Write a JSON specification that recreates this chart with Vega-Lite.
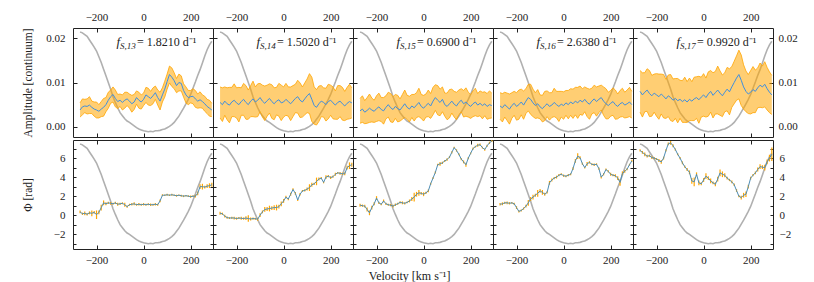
{
"$schema": "https://vega.github.io/schema/vega-lite/v6.json",
"padding": {"left": 21, "top": 10, "right": 10, "bottom": 0},
"config": {
  "font": "Liberation Serif",
  "view": {"stroke": "#222", "strokeWidth": 1},
  "axis": {"labelFont": "Liberation Serif", "labelFontSize": 11, "labelColor": "#222", "tickColor": "#222", "tickWidth": 1, "domain": false, "grid": false, "titleFont": "Liberation Serif", "titleFontSize": 11.5, "titleFontWeight": "normal", "titleColor": "#222", "labelFlush": false}
},
"title": {"text": "Velocity [km s⁻¹]", "orient": "bottom", "anchor": "middle", "frame": "bounds", "fontSize": 12, "fontWeight": "normal", "font": "Liberation Serif", "color": "#222", "offset": 5},
"datasets": {
"one": [{}],
"prof": [
{"v":-270,"f":0.0214},{"v":-260,"f":0.0212},{"v":-250,"f":0.0208},{"v":-240,"f":0.0204},{"v":-230,"f":0.0196},{"v":-220,"f":0.0188},{"v":-210,"f":0.0180},{"v":-200,"f":0.0171},{"v":-190,"f":0.0158},{"v":-180,"f":0.0145},{"v":-170,"f":0.0130},{"v":-160,"f":0.0115},{"v":-150,"f":0.0100},{"v":-140,"f":0.0085},{"v":-130,"f":0.0068},{"v":-120,"f":0.0055},{"v":-110,"f":0.0043},{"v":-100,"f":0.0032},{"v":-90,"f":0.0025},{"v":-80,"f":0.0018},{"v":-70,"f":0.0013},{"v":-60,"f":0.0010},{"v":-50,"f":0.0006},{"v":-40,"f":0.0002},{"v":-30,"f":-0.0002},{"v":-20,"f":-0.0005},{"v":-10,"f":-0.0007},{"v":0,"f":-0.0009},{"v":10,"f":-0.0010},{"v":20,"f":-0.0011},{"v":30,"f":-0.0010},{"v":40,"f":-0.0011},{"v":50,"f":-0.0009},{"v":60,"f":-0.0009},{"v":70,"f":-0.0008},{"v":80,"f":-0.0006},{"v":90,"f":-0.0005},{"v":100,"f":-0.0002},{"v":110,"f":0.0001},{"v":120,"f":0.0005},{"v":130,"f":0.0010},{"v":140,"f":0.0017},{"v":150,"f":0.0024},{"v":160,"f":0.0033},{"v":170,"f":0.0042},{"v":180,"f":0.0052},{"v":190,"f":0.0062},{"v":200,"f":0.0073},{"v":210,"f":0.0087},{"v":220,"f":0.0101},{"v":230,"f":0.0116},{"v":240,"f":0.0129},{"v":250,"f":0.0144},{"v":260,"f":0.0160},{"v":270,"f":0.0174},{"v":280,"f":0.0185},{"v":290,"f":0.0193}
],
"d": [
{"p":1,"v":-270,"a":0.0038,"e":0.0016,"ph":0.35,"pe":0.15},
{"p":1,"v":-260,"a":0.0045,"e":0.0018,"ph":0.15,"pe":0.12},
{"p":1,"v":-250,"a":0.0047,"e":0.0015,"ph":0.2,"pe":0.2},
{"p":1,"v":-240,"a":0.0046,"e":0.0017,"ph":0.1,"pe":0.12},
{"p":1,"v":-230,"a":0.0049,"e":0.0019,"ph":0.25,"pe":0.15},
{"p":1,"v":-220,"a":0.0044,"e":0.0014,"ph":0.2,"pe":0.3},
{"p":1,"v":-210,"a":0.0040,"e":0.0016,"ph":0.3,"pe":0.15},
{"p":1,"v":-200,"a":0.0038,"e":0.0018,"ph":0.05,"pe":0.45},
{"p":1,"v":-190,"a":0.0035,"e":0.0015,"ph":0.3,"pe":0.2},
{"p":1,"v":-180,"a":0.0040,"e":0.0017,"ph":0.8,"pe":0.3},
{"p":1,"v":-170,"a":0.0044,"e":0.0020,"ph":1.3,"pe":0.25},
{"p":1,"v":-160,"a":0.0050,"e":0.0016,"ph":1.2,"pe":0.15},
{"p":1,"v":-150,"a":0.0060,"e":0.0018,"ph":1.3,"pe":0.12},
{"p":1,"v":-140,"a":0.0068,"e":0.0015,"ph":1.25,"pe":0.15},
{"p":1,"v":-130,"a":0.0073,"e":0.0017,"ph":1.2,"pe":0.1},
{"p":1,"v":-120,"a":0.0064,"e":0.0019,"ph":1.3,"pe":0.12},
{"p":1,"v":-110,"a":0.0057,"e":0.0016,"ph":1.15,"pe":0.15},
{"p":1,"v":-100,"a":0.0060,"e":0.0014,"ph":1.2,"pe":0.12},
{"p":1,"v":-90,"a":0.0055,"e":0.0017,"ph":1.25,"pe":0.1},
{"p":1,"v":-80,"a":0.0060,"e":0.0018,"ph":1.1,"pe":0.2},
{"p":1,"v":-70,"a":0.0063,"e":0.0015,"ph":0.9,"pe":0.12},
{"p":1,"v":-60,"a":0.0058,"e":0.0016,"ph":1.1,"pe":0.1},
{"p":1,"v":-50,"a":0.0052,"e":0.0019,"ph":1.15,"pe":0.12},
{"p":1,"v":-40,"a":0.0056,"e":0.0017,"ph":1.2,"pe":0.15},
{"p":1,"v":-30,"a":0.0066,"e":0.0015,"ph":1.1,"pe":0.1},
{"p":1,"v":-20,"a":0.0060,"e":0.0018,"ph":1.15,"pe":0.12},
{"p":1,"v":-10,"a":0.0056,"e":0.0016,"ph":1.1,"pe":0.1},
{"p":1,"v":0,"a":0.0062,"e":0.0014,"ph":1.15,"pe":0.12},
{"p":1,"v":10,"a":0.0072,"e":0.0017,"ph":1.1,"pe":0.1},
{"p":1,"v":20,"a":0.0068,"e":0.0019,"ph":1.15,"pe":0.1},
{"p":1,"v":30,"a":0.0064,"e":0.0016,"ph":1.1,"pe":0.12},
{"p":1,"v":40,"a":0.0070,"e":0.0018,"ph":1.1,"pe":0.1},
{"p":1,"v":50,"a":0.0077,"e":0.0015,"ph":1.15,"pe":0.12},
{"p":1,"v":60,"a":0.0066,"e":0.0017,"ph":1.1,"pe":0.1},
{"p":1,"v":70,"a":0.0058,"e":0.0020,"ph":1.5,"pe":0.15},
{"p":1,"v":80,"a":0.0072,"e":0.0016,"ph":2.1,"pe":0.1},
{"p":1,"v":90,"a":0.0085,"e":0.0018,"ph":2.1,"pe":0.08},
{"p":1,"v":100,"a":0.0102,"e":0.0017,"ph":2.15,"pe":0.1},
{"p":1,"v":110,"a":0.0118,"e":0.0019,"ph":2.1,"pe":0.08},
{"p":1,"v":120,"a":0.0112,"e":0.0021,"ph":2.15,"pe":0.1},
{"p":1,"v":130,"a":0.0104,"e":0.0018,"ph":2.1,"pe":0.08},
{"p":1,"v":140,"a":0.0093,"e":0.0016,"ph":2.05,"pe":0.1},
{"p":1,"v":150,"a":0.0100,"e":0.0019,"ph":2.1,"pe":0.08},
{"p":1,"v":160,"a":0.0098,"e":0.0017,"ph":2.05,"pe":0.1},
{"p":1,"v":170,"a":0.0082,"e":0.0015,"ph":2.0,"pe":0.1},
{"p":1,"v":180,"a":0.0072,"e":0.0018,"ph":2.05,"pe":0.08},
{"p":1,"v":190,"a":0.0066,"e":0.0016,"ph":2.0,"pe":0.1},
{"p":1,"v":200,"a":0.0068,"e":0.0014,"ph":1.95,"pe":0.12},
{"p":1,"v":210,"a":0.0069,"e":0.0017,"ph":2.0,"pe":0.1},
{"p":1,"v":220,"a":0.0063,"e":0.0019,"ph":2.0,"pe":0.15},
{"p":1,"v":230,"a":0.0058,"e":0.0016,"ph":2.3,"pe":0.2},
{"p":1,"v":240,"a":0.0061,"e":0.0018,"ph":3.0,"pe":0.25},
{"p":1,"v":250,"a":0.0057,"e":0.0015,"ph":3.0,"pe":0.3},
{"p":1,"v":260,"a":0.0052,"e":0.0017,"ph":2.95,"pe":0.15},
{"p":1,"v":270,"a":0.0046,"e":0.0016,"ph":3.05,"pe":0.2},
{"p":1,"v":280,"a":0.0042,"e":0.0018,"ph":3.1,"pe":0.25},
{"p":1,"v":290,"a":0.0038,"e":0.0015,"ph":3.2,"pe":0.2},
{"p":2,"v":-270,"a":0.0055,"e":0.0035,"ph":0.2,"pe":0.15},
{"p":2,"v":-260,"a":0.0050,"e":0.0038,"ph":0.15,"pe":0.12},
{"p":2,"v":-250,"a":0.0058,"e":0.0032,"ph":-0.1,"pe":0.15},
{"p":2,"v":-240,"a":0.0052,"e":0.0036,"ph":-0.25,"pe":0.12},
{"p":2,"v":-230,"a":0.0049,"e":0.0040,"ph":-0.3,"pe":0.1},
{"p":2,"v":-220,"a":0.0056,"e":0.0033,"ph":-0.28,"pe":0.12},
{"p":2,"v":-210,"a":0.0060,"e":0.0037,"ph":-0.3,"pe":0.15},
{"p":2,"v":-200,"a":0.0054,"e":0.0034,"ph":-0.35,"pe":0.12},
{"p":2,"v":-190,"a":0.0050,"e":0.0039,"ph":-0.3,"pe":0.1},
{"p":2,"v":-180,"a":0.0057,"e":0.0031,"ph":-0.32,"pe":0.15},
{"p":2,"v":-170,"a":0.0062,"e":0.0036,"ph":-0.35,"pe":0.12},
{"p":2,"v":-160,"a":0.0055,"e":0.0038,"ph":-0.3,"pe":0.2},
{"p":2,"v":-150,"a":0.0050,"e":0.0033,"ph":-0.35,"pe":0.35},
{"p":2,"v":-140,"a":0.0058,"e":0.0035,"ph":-0.4,"pe":0.15},
{"p":2,"v":-130,"a":0.0063,"e":0.0040,"ph":-0.35,"pe":0.12},
{"p":2,"v":-120,"a":0.0056,"e":0.0034,"ph":-0.38,"pe":0.1},
{"p":2,"v":-110,"a":0.0060,"e":0.0037,"ph":-0.42,"pe":0.15},
{"p":2,"v":-100,"a":0.0066,"e":0.0032,"ph":0.0,"pe":0.2},
{"p":2,"v":-90,"a":0.0058,"e":0.0036,"ph":0.35,"pe":0.15},
{"p":2,"v":-80,"a":0.0053,"e":0.0039,"ph":0.6,"pe":0.25},
{"p":2,"v":-70,"a":0.0059,"e":0.0035,"ph":0.65,"pe":0.2},
{"p":2,"v":-60,"a":0.0064,"e":0.0033,"ph":0.7,"pe":0.3},
{"p":2,"v":-50,"a":0.0057,"e":0.0038,"ph":0.75,"pe":0.2},
{"p":2,"v":-40,"a":0.0052,"e":0.0036,"ph":0.8,"pe":0.25},
{"p":2,"v":-30,"a":0.0058,"e":0.0031,"ph":0.8,"pe":0.3},
{"p":2,"v":-20,"a":0.0061,"e":0.0037,"ph":0.9,"pe":0.2},
{"p":2,"v":-10,"a":0.0054,"e":0.0040,"ph":1.2,"pe":0.25},
{"p":2,"v":0,"a":0.0056,"e":0.0034,"ph":1.5,"pe":0.2},
{"p":2,"v":10,"a":0.0062,"e":0.0036,"ph":1.9,"pe":0.15},
{"p":2,"v":20,"a":0.0057,"e":0.0033,"ph":1.7,"pe":0.12},
{"p":2,"v":30,"a":0.0052,"e":0.0038,"ph":2.2,"pe":0.15},
{"p":2,"v":40,"a":0.0058,"e":0.0035,"ph":2.7,"pe":0.12},
{"p":2,"v":50,"a":0.0064,"e":0.0032,"ph":2.3,"pe":0.15},
{"p":2,"v":60,"a":0.0068,"e":0.0037,"ph":1.6,"pe":0.1},
{"p":2,"v":70,"a":0.0060,"e":0.0039,"ph":2.2,"pe":0.12},
{"p":2,"v":80,"a":0.0056,"e":0.0034,"ph":2.55,"pe":0.1},
{"p":2,"v":90,"a":0.0063,"e":0.0036,"ph":2.6,"pe":0.12},
{"p":2,"v":100,"a":0.0070,"e":0.0038,"ph":2.75,"pe":0.15},
{"p":2,"v":110,"a":0.0075,"e":0.0045,"ph":2.9,"pe":0.35},
{"p":2,"v":120,"a":0.0062,"e":0.0050,"ph":3.2,"pe":0.2},
{"p":2,"v":130,"a":0.0048,"e":0.0042,"ph":3.3,"pe":0.12},
{"p":2,"v":140,"a":0.0044,"e":0.0040,"ph":3.55,"pe":0.4},
{"p":2,"v":150,"a":0.0052,"e":0.0040,"ph":3.8,"pe":0.15},
{"p":2,"v":160,"a":0.0058,"e":0.0035,"ph":3.9,"pe":0.12},
{"p":2,"v":170,"a":0.0055,"e":0.0033,"ph":3.45,"pe":0.1},
{"p":2,"v":180,"a":0.0050,"e":0.0037,"ph":4.0,"pe":0.2},
{"p":2,"v":190,"a":0.0057,"e":0.0039,"ph":4.1,"pe":0.12},
{"p":2,"v":200,"a":0.0060,"e":0.0034,"ph":3.95,"pe":0.15},
{"p":2,"v":210,"a":0.0054,"e":0.0036,"ph":4.05,"pe":0.12},
{"p":2,"v":220,"a":0.0049,"e":0.0032,"ph":4.3,"pe":0.15},
{"p":2,"v":230,"a":0.0055,"e":0.0038,"ph":4.45,"pe":0.1},
{"p":2,"v":240,"a":0.0058,"e":0.0035,"ph":4.4,"pe":0.15},
{"p":2,"v":250,"a":0.0052,"e":0.0037,"ph":4.35,"pe":0.12},
{"p":2,"v":260,"a":0.0047,"e":0.0033,"ph":4.35,"pe":0.15},
{"p":2,"v":270,"a":0.0053,"e":0.0036,"ph":5.0,"pe":0.2},
{"p":2,"v":280,"a":0.0057,"e":0.0039,"ph":5.2,"pe":0.35},
{"p":2,"v":290,"a":0.0054,"e":0.0034,"ph":5.3,"pe":0.2},
{"p":3,"v":-270,"a":0.0036,"e":0.0028,"ph":1.05,"pe":0.15},
{"p":3,"v":-260,"a":0.0040,"e":0.0030,"ph":1.0,"pe":0.12},
{"p":3,"v":-250,"a":0.0033,"e":0.0026,"ph":0.95,"pe":0.15},
{"p":3,"v":-240,"a":0.0037,"e":0.0029,"ph":0.6,"pe":0.2},
{"p":3,"v":-230,"a":0.0042,"e":0.0032,"ph":0.25,"pe":0.25},
{"p":3,"v":-220,"a":0.0038,"e":0.0027,"ph":0.8,"pe":0.2},
{"p":3,"v":-210,"a":0.0035,"e":0.0025,"ph":1.2,"pe":0.15},
{"p":3,"v":-200,"a":0.0041,"e":0.0029,"ph":1.8,"pe":0.2},
{"p":3,"v":-190,"a":0.0045,"e":0.0031,"ph":1.3,"pe":0.12},
{"p":3,"v":-180,"a":0.0039,"e":0.0027,"ph":1.15,"pe":0.1},
{"p":3,"v":-170,"a":0.0036,"e":0.0030,"ph":1.5,"pe":0.15},
{"p":3,"v":-160,"a":0.0044,"e":0.0026,"ph":1.2,"pe":0.12},
{"p":3,"v":-150,"a":0.0050,"e":0.0028,"ph":1.1,"pe":0.1},
{"p":3,"v":-140,"a":0.0043,"e":0.0032,"ph":1.05,"pe":0.12},
{"p":3,"v":-130,"a":0.0039,"e":0.0029,"ph":0.95,"pe":0.15},
{"p":3,"v":-120,"a":0.0046,"e":0.0027,"ph":1.1,"pe":0.12},
{"p":3,"v":-110,"a":0.0041,"e":0.0030,"ph":1.2,"pe":0.1},
{"p":3,"v":-100,"a":0.0038,"e":0.0025,"ph":1.35,"pe":0.12},
{"p":3,"v":-90,"a":0.0045,"e":0.0028,"ph":1.3,"pe":0.15},
{"p":3,"v":-80,"a":0.0052,"e":0.0031,"ph":1.25,"pe":0.12},
{"p":3,"v":-70,"a":0.0044,"e":0.0027,"ph":1.35,"pe":0.1},
{"p":3,"v":-60,"a":0.0040,"e":0.0029,"ph":1.5,"pe":0.15},
{"p":3,"v":-50,"a":0.0047,"e":0.0026,"ph":1.7,"pe":0.2},
{"p":3,"v":-40,"a":0.0043,"e":0.0030,"ph":1.9,"pe":0.45},
{"p":3,"v":-30,"a":0.0049,"e":0.0028,"ph":2.2,"pe":0.25},
{"p":3,"v":-20,"a":0.0055,"e":0.0032,"ph":2.35,"pe":0.3},
{"p":3,"v":-10,"a":0.0046,"e":0.0027,"ph":2.3,"pe":0.15},
{"p":3,"v":0,"a":0.0042,"e":0.0029,"ph":2.2,"pe":0.2},
{"p":3,"v":10,"a":0.0048,"e":0.0026,"ph":2.35,"pe":0.12},
{"p":3,"v":20,"a":0.0053,"e":0.0030,"ph":2.55,"pe":0.15},
{"p":3,"v":30,"a":0.0047,"e":0.0028,"ph":3.3,"pe":0.12},
{"p":3,"v":40,"a":0.0058,"e":0.0031,"ph":3.9,"pe":0.1},
{"p":3,"v":50,"a":0.0066,"e":0.0029,"ph":4.5,"pe":0.12},
{"p":3,"v":60,"a":0.0060,"e":0.0033,"ph":5.3,"pe":0.1},
{"p":3,"v":70,"a":0.0055,"e":0.0030,"ph":5.4,"pe":0.2},
{"p":3,"v":80,"a":0.0062,"e":0.0028,"ph":5.5,"pe":0.12},
{"p":3,"v":90,"a":0.0050,"e":0.0026,"ph":5.7,"pe":0.1},
{"p":3,"v":100,"a":0.0046,"e":0.0030,"ph":5.85,"pe":0.12},
{"p":3,"v":110,"a":0.0052,"e":0.0032,"ph":6.1,"pe":0.1},
{"p":3,"v":120,"a":0.0058,"e":0.0027,"ph":6.6,"pe":0.12},
{"p":3,"v":130,"a":0.0051,"e":0.0029,"ph":7.1,"pe":0.1},
{"p":3,"v":140,"a":0.0047,"e":0.0031,"ph":6.8,"pe":0.12},
{"p":3,"v":150,"a":0.0055,"e":0.0028,"ph":6.4,"pe":0.1},
{"p":3,"v":160,"a":0.0060,"e":0.0026,"ph":5.9,"pe":0.12},
{"p":3,"v":170,"a":0.0052,"e":0.0030,"ph":5.6,"pe":0.15},
{"p":3,"v":180,"a":0.0056,"e":0.0032,"ph":5.3,"pe":0.2},
{"p":3,"v":190,"a":0.0050,"e":0.0028,"ph":6.0,"pe":0.12},
{"p":3,"v":200,"a":0.0046,"e":0.0027,"ph":6.5,"pe":0.1},
{"p":3,"v":210,"a":0.0052,"e":0.0029,"ph":7.0,"pe":0.12},
{"p":3,"v":220,"a":0.0056,"e":0.0031,"ph":7.2,"pe":0.1},
{"p":3,"v":230,"a":0.0049,"e":0.0026,"ph":7.35,"pe":0.15},
{"p":3,"v":240,"a":0.0053,"e":0.0028,"ph":7.4,"pe":0.12},
{"p":3,"v":250,"a":0.0048,"e":0.0030,"ph":7.1,"pe":0.1},
{"p":3,"v":260,"a":0.0052,"e":0.0027,"ph":6.9,"pe":0.12},
{"p":3,"v":270,"a":0.0046,"e":0.0029,"ph":7.3,"pe":0.1},
{"p":3,"v":280,"a":0.0050,"e":0.0031,"ph":7.6,"pe":0.12},
{"p":3,"v":290,"a":0.0048,"e":0.0028,"ph":7.8,"pe":0.1},
{"p":4,"v":-270,"a":0.0047,"e":0.0030,"ph":1.15,"pe":0.12},
{"p":4,"v":-260,"a":0.0043,"e":0.0032,"ph":1.2,"pe":0.15},
{"p":4,"v":-250,"a":0.0050,"e":0.0028,"ph":1.3,"pe":0.12},
{"p":4,"v":-240,"a":0.0045,"e":0.0031,"ph":1.3,"pe":0.15},
{"p":4,"v":-230,"a":0.0040,"e":0.0034,"ph":1.25,"pe":0.12},
{"p":4,"v":-220,"a":0.0048,"e":0.0029,"ph":1.3,"pe":0.1},
{"p":4,"v":-210,"a":0.0053,"e":0.0027,"ph":1.2,"pe":0.12},
{"p":4,"v":-200,"a":0.0046,"e":0.0031,"ph":0.8,"pe":0.15},
{"p":4,"v":-190,"a":0.0050,"e":0.0033,"ph":0.4,"pe":0.12},
{"p":4,"v":-180,"a":0.0056,"e":0.0029,"ph":0.5,"pe":0.1},
{"p":4,"v":-170,"a":0.0049,"e":0.0032,"ph":0.7,"pe":0.12},
{"p":4,"v":-160,"a":0.0058,"e":0.0028,"ph":0.95,"pe":0.15},
{"p":4,"v":-150,"a":0.0066,"e":0.0030,"ph":1.3,"pe":0.3},
{"p":4,"v":-140,"a":0.0062,"e":0.0034,"ph":1.7,"pe":0.2},
{"p":4,"v":-130,"a":0.0054,"e":0.0031,"ph":1.9,"pe":0.25},
{"p":4,"v":-120,"a":0.0048,"e":0.0029,"ph":2.1,"pe":0.15},
{"p":4,"v":-110,"a":0.0052,"e":0.0032,"ph":2.3,"pe":0.35},
{"p":4,"v":-100,"a":0.0045,"e":0.0027,"ph":2.55,"pe":0.2},
{"p":4,"v":-90,"a":0.0041,"e":0.0030,"ph":2.4,"pe":0.25},
{"p":4,"v":-80,"a":0.0047,"e":0.0033,"ph":2.2,"pe":0.15},
{"p":4,"v":-70,"a":0.0052,"e":0.0029,"ph":2.4,"pe":0.12},
{"p":4,"v":-60,"a":0.0046,"e":0.0031,"ph":3.4,"pe":0.2},
{"p":4,"v":-50,"a":0.0049,"e":0.0028,"ph":3.7,"pe":0.15},
{"p":4,"v":-40,"a":0.0055,"e":0.0032,"ph":3.9,"pe":0.12},
{"p":4,"v":-30,"a":0.0050,"e":0.0030,"ph":4.0,"pe":0.15},
{"p":4,"v":-20,"a":0.0046,"e":0.0034,"ph":4.2,"pe":0.12},
{"p":4,"v":-10,"a":0.0051,"e":0.0029,"ph":4.3,"pe":0.1},
{"p":4,"v":0,"a":0.0048,"e":0.0031,"ph":4.15,"pe":0.12},
{"p":4,"v":10,"a":0.0054,"e":0.0028,"ph":4.1,"pe":0.1},
{"p":4,"v":20,"a":0.0050,"e":0.0032,"ph":4.2,"pe":0.12},
{"p":4,"v":30,"a":0.0056,"e":0.0030,"ph":4.3,"pe":0.1},
{"p":4,"v":40,"a":0.0052,"e":0.0033,"ph":4.9,"pe":0.15},
{"p":4,"v":50,"a":0.0058,"e":0.0031,"ph":5.7,"pe":0.2},
{"p":4,"v":60,"a":0.0054,"e":0.0035,"ph":6.2,"pe":0.3},
{"p":4,"v":70,"a":0.0060,"e":0.0032,"ph":6.05,"pe":0.15},
{"p":4,"v":80,"a":0.0056,"e":0.0030,"ph":5.4,"pe":0.12},
{"p":4,"v":90,"a":0.0062,"e":0.0028,"ph":5.0,"pe":0.1},
{"p":4,"v":100,"a":0.0055,"e":0.0032,"ph":5.4,"pe":0.2},
{"p":4,"v":110,"a":0.0051,"e":0.0034,"ph":5.55,"pe":0.12},
{"p":4,"v":120,"a":0.0058,"e":0.0029,"ph":5.35,"pe":0.1},
{"p":4,"v":130,"a":0.0063,"e":0.0031,"ph":5.3,"pe":0.12},
{"p":4,"v":140,"a":0.0057,"e":0.0033,"ph":5.35,"pe":0.1},
{"p":4,"v":150,"a":0.0062,"e":0.0030,"ph":4.9,"pe":0.12},
{"p":4,"v":160,"a":0.0066,"e":0.0028,"ph":4.0,"pe":0.15},
{"p":4,"v":170,"a":0.0058,"e":0.0032,"ph":4.3,"pe":0.12},
{"p":4,"v":180,"a":0.0052,"e":0.0034,"ph":4.8,"pe":0.1},
{"p":4,"v":190,"a":0.0048,"e":0.0030,"ph":4.6,"pe":0.12},
{"p":4,"v":200,"a":0.0053,"e":0.0029,"ph":4.3,"pe":0.15},
{"p":4,"v":210,"a":0.0057,"e":0.0031,"ph":4.2,"pe":0.12},
{"p":4,"v":220,"a":0.0050,"e":0.0033,"ph":4.15,"pe":0.15},
{"p":4,"v":230,"a":0.0046,"e":0.0028,"ph":3.9,"pe":0.2},
{"p":4,"v":240,"a":0.0052,"e":0.0030,"ph":3.45,"pe":0.35},
{"p":4,"v":250,"a":0.0055,"e":0.0032,"ph":4.4,"pe":0.2},
{"p":4,"v":260,"a":0.0049,"e":0.0029,"ph":4.6,"pe":0.15},
{"p":4,"v":270,"a":0.0052,"e":0.0031,"ph":4.85,"pe":0.12},
{"p":4,"v":280,"a":0.0056,"e":0.0033,"ph":5.3,"pe":0.1},
{"p":4,"v":290,"a":0.0050,"e":0.0030,"ph":5.7,"pe":0.12},
{"p":5,"v":-270,"a":0.0080,"e":0.0047,"ph":6.8,"pe":0.12},
{"p":5,"v":-260,"a":0.0072,"e":0.0050,"ph":6.6,"pe":0.15},
{"p":5,"v":-250,"a":0.0078,"e":0.0044,"ph":6.4,"pe":0.2},
{"p":5,"v":-240,"a":0.0083,"e":0.0048,"ph":6.2,"pe":0.15},
{"p":5,"v":-230,"a":0.0075,"e":0.0052,"ph":6.25,"pe":0.12},
{"p":5,"v":-220,"a":0.0070,"e":0.0046,"ph":6.05,"pe":0.15},
{"p":5,"v":-210,"a":0.0076,"e":0.0043,"ph":6.0,"pe":0.12},
{"p":5,"v":-200,"a":0.0072,"e":0.0048,"ph":5.9,"pe":0.1},
{"p":5,"v":-190,"a":0.0068,"e":0.0051,"ph":5.75,"pe":0.15},
{"p":5,"v":-180,"a":0.0074,"e":0.0045,"ph":5.6,"pe":0.2},
{"p":5,"v":-170,"a":0.0069,"e":0.0049,"ph":6.0,"pe":0.15},
{"p":5,"v":-160,"a":0.0063,"e":0.0044,"ph":6.8,"pe":0.12},
{"p":5,"v":-150,"a":0.0070,"e":0.0047,"ph":7.5,"pe":0.15},
{"p":5,"v":-140,"a":0.0066,"e":0.0052,"ph":7.6,"pe":0.2},
{"p":5,"v":-130,"a":0.0060,"e":0.0048,"ph":7.3,"pe":0.15},
{"p":5,"v":-120,"a":0.0064,"e":0.0045,"ph":6.9,"pe":0.12},
{"p":5,"v":-110,"a":0.0059,"e":0.0050,"ph":6.4,"pe":0.1},
{"p":5,"v":-100,"a":0.0062,"e":0.0043,"ph":6.0,"pe":0.12},
{"p":5,"v":-90,"a":0.0057,"e":0.0047,"ph":5.5,"pe":0.15},
{"p":5,"v":-80,"a":0.0061,"e":0.0051,"ph":5.1,"pe":0.12},
{"p":5,"v":-70,"a":0.0056,"e":0.0046,"ph":4.8,"pe":0.15},
{"p":5,"v":-60,"a":0.0062,"e":0.0048,"ph":4.5,"pe":0.2},
{"p":5,"v":-50,"a":0.0058,"e":0.0044,"ph":3.6,"pe":0.3},
{"p":5,"v":-40,"a":0.0063,"e":0.0049,"ph":3.5,"pe":0.45},
{"p":5,"v":-30,"a":0.0066,"e":0.0047,"ph":4.3,"pe":0.2},
{"p":5,"v":-20,"a":0.0061,"e":0.0053,"ph":3.4,"pe":0.25},
{"p":5,"v":-10,"a":0.0067,"e":0.0045,"ph":3.3,"pe":0.15},
{"p":5,"v":0,"a":0.0072,"e":0.0048,"ph":3.7,"pe":0.2},
{"p":5,"v":10,"a":0.0066,"e":0.0044,"ph":4.1,"pe":0.3},
{"p":5,"v":20,"a":0.0074,"e":0.0050,"ph":3.9,"pe":0.2},
{"p":5,"v":30,"a":0.0080,"e":0.0047,"ph":3.6,"pe":0.25},
{"p":5,"v":40,"a":0.0071,"e":0.0051,"ph":3.4,"pe":0.15},
{"p":5,"v":50,"a":0.0077,"e":0.0048,"ph":3.25,"pe":0.2},
{"p":5,"v":60,"a":0.0083,"e":0.0054,"ph":3.8,"pe":0.25},
{"p":5,"v":70,"a":0.0076,"e":0.0050,"ph":4.45,"pe":0.35},
{"p":5,"v":80,"a":0.0070,"e":0.0047,"ph":4.3,"pe":0.3},
{"p":5,"v":90,"a":0.0078,"e":0.0044,"ph":4.2,"pe":0.2},
{"p":5,"v":100,"a":0.0085,"e":0.0049,"ph":3.9,"pe":0.15},
{"p":5,"v":110,"a":0.0079,"e":0.0052,"ph":3.7,"pe":0.12},
{"p":5,"v":120,"a":0.0090,"e":0.0046,"ph":3.5,"pe":0.15},
{"p":5,"v":130,"a":0.0100,"e":0.0048,"ph":3.2,"pe":0.12},
{"p":5,"v":140,"a":0.0110,"e":0.0050,"ph":2.6,"pe":0.15},
{"p":5,"v":150,"a":0.0118,"e":0.0055,"ph":2.0,"pe":0.12},
{"p":5,"v":160,"a":0.0105,"e":0.0057,"ph":1.85,"pe":0.2},
{"p":5,"v":170,"a":0.0090,"e":0.0050,"ph":2.1,"pe":0.25},
{"p":5,"v":180,"a":0.0080,"e":0.0046,"ph":2.2,"pe":0.3},
{"p":5,"v":190,"a":0.0074,"e":0.0044,"ph":3.0,"pe":0.2},
{"p":5,"v":200,"a":0.0078,"e":0.0049,"ph":3.9,"pe":0.15},
{"p":5,"v":210,"a":0.0084,"e":0.0052,"ph":4.2,"pe":0.12},
{"p":5,"v":220,"a":0.0080,"e":0.0048,"ph":4.45,"pe":0.15},
{"p":5,"v":230,"a":0.0088,"e":0.0045,"ph":4.8,"pe":0.2},
{"p":5,"v":240,"a":0.0094,"e":0.0050,"ph":5.1,"pe":0.25},
{"p":5,"v":250,"a":0.0090,"e":0.0047,"ph":5.05,"pe":0.2},
{"p":5,"v":260,"a":0.0096,"e":0.0051,"ph":5.0,"pe":0.3},
{"p":5,"v":270,"a":0.0086,"e":0.0048,"ph":5.6,"pe":0.25},
{"p":5,"v":280,"a":0.0078,"e":0.0046,"ph":6.0,"pe":0.35},
{"p":5,"v":290,"a":0.0072,"e":0.0044,"ph":6.4,"pe":0.7}
]
},
"spacing": 0,
"vconcat": [
{"spacing": 0, "bounds": "flush", "hconcat": [
{"width": 140, "height": 109, "resolve": {"axis": {"x": "independent", "y": "independent"}}, "layer": [
 {"data": {"name": "prof"}, "mark": {"type": "line", "color": "#b0b0b0", "strokeWidth": 1.6}, "encoding": {"x": {"field": "v", "type": "quantitative", "scale": {"domain": [-300, 295], "nice": false, "zero": false}, "axis": null}, "y": {"field": "f", "type": "quantitative", "scale": {"domain": [-0.0023, 0.0223], "nice": false, "zero": false}, "axis": null}}},
 {"data": {"name": "d"}, "transform": [{"filter": "datum.p == 1"}], "mark": {"type": "errorband", "color": "#ffa500", "band": {"opacity": 0.55}, "borders": {"opacity": 1, "strokeWidth": 0.8}}, "encoding": {"x": {"field": "v", "type": "quantitative", "scale": {"domain": [-300, 295], "nice": false, "zero": false}, "axis": {"orient": "bottom", "values": [-200, 0, 200], "tickSize": -4, "labels": false, "title": null}}, "y": {"field": "a", "type": "quantitative", "scale": {"domain": [-0.0023, 0.0223], "nice": false, "zero": false}, "axis": {"orient": "right", "values": [0, 0.01, 0.02], "tickSize": -4, "labels": false, "title": null}}, "yError": {"field": "e"}}},
 {"data": {"name": "d"}, "transform": [{"filter": "datum.p == 1"}], "mark": {"type": "line", "color": "#3f8fdf", "strokeWidth": 1}, "encoding": {"x": {"field": "v", "type": "quantitative", "scale": {"domain": [-300, 295], "nice": false, "zero": false}, "axis": {"orient": "top", "values": [-200, 0, 200], "tickSize": -4, "labelPadding": 10, "title": null}}, "y": {"field": "a", "type": "quantitative", "scale": {"domain": [-0.0023, 0.0223], "nice": false, "zero": false}, "axis": {"orient": "left", "values": [0, 0.01, 0.02], "format": ".2f", "tickSize": -4, "labelPadding": 12, "title": "Amplitude [continuum]", "titleX": -40}}}},
 {"data": {"name": "one"}, "mark": {"type": "text", "text": "f", "fontStyle": "italic", "fontSize": 13, "align": "right", "baseline": "alphabetic", "color": "#222"}, "encoding": {"x": {"datum": -100, "type": "quantitative", "axis": null}, "y": {"datum": 0.0183, "type": "quantitative", "axis": null}}},
 {"data": {"name": "one"}, "mark": {"type": "text", "text": "S,13", "fontStyle": "italic", "fontSize": 9, "align": "left", "baseline": "alphabetic", "dy": 3, "color": "#222"}, "encoding": {"x": {"datum": -100, "type": "quantitative", "axis": null}, "y": {"datum": 0.0183, "type": "quantitative", "axis": null}}},
 {"data": {"name": "one"}, "mark": {"type": "text", "text": "= 1.8210 d⁻¹", "fontSize": 12, "align": "left", "baseline": "alphabetic", "dx": 17, "color": "#222"}, "encoding": {"x": {"datum": -100, "type": "quantitative", "axis": null}, "y": {"datum": 0.0183, "type": "quantitative", "axis": null}}}
]},
{"width": 140, "height": 109, "resolve": {"axis": {"x": "independent", "y": "independent"}}, "layer": [
 {"data": {"name": "prof"}, "mark": {"type": "line", "color": "#b0b0b0", "strokeWidth": 1.6}, "encoding": {"x": {"field": "v", "type": "quantitative", "scale": {"domain": [-300, 295], "nice": false, "zero": false}, "axis": null}, "y": {"field": "f", "type": "quantitative", "scale": {"domain": [-0.0023, 0.0223], "nice": false, "zero": false}, "axis": null}}},
 {"data": {"name": "d"}, "transform": [{"filter": "datum.p == 2"}], "mark": {"type": "errorband", "color": "#ffa500", "band": {"opacity": 0.55}, "borders": {"opacity": 1, "strokeWidth": 0.8}}, "encoding": {"x": {"field": "v", "type": "quantitative", "scale": {"domain": [-300, 295], "nice": false, "zero": false}, "axis": {"orient": "bottom", "values": [-200, 0, 200], "tickSize": -4, "labels": false, "title": null}}, "y": {"field": "a", "type": "quantitative", "scale": {"domain": [-0.0023, 0.0223], "nice": false, "zero": false}, "axis": {"orient": "right", "values": [0, 0.01, 0.02], "tickSize": -4, "labels": false, "title": null}}, "yError": {"field": "e"}}},
 {"data": {"name": "d"}, "transform": [{"filter": "datum.p == 2"}], "mark": {"type": "line", "color": "#3f8fdf", "strokeWidth": 1}, "encoding": {"x": {"field": "v", "type": "quantitative", "scale": {"domain": [-300, 295], "nice": false, "zero": false}, "axis": {"orient": "top", "values": [-200, 0, 200], "tickSize": -4, "labelPadding": 10, "title": null}}, "y": {"field": "a", "type": "quantitative", "scale": {"domain": [-0.0023, 0.0223], "nice": false, "zero": false}, "axis": {"orient": "left", "values": [0, 0.01, 0.02], "tickSize": -4, "labels": false, "title": null}}}},
 {"data": {"name": "one"}, "mark": {"type": "text", "text": "f", "fontStyle": "italic", "fontSize": 13, "align": "right", "baseline": "alphabetic", "color": "#222"}, "encoding": {"x": {"datum": -100, "type": "quantitative", "axis": null}, "y": {"datum": 0.0183, "type": "quantitative", "axis": null}}},
 {"data": {"name": "one"}, "mark": {"type": "text", "text": "S,14", "fontStyle": "italic", "fontSize": 9, "align": "left", "baseline": "alphabetic", "dy": 3, "color": "#222"}, "encoding": {"x": {"datum": -100, "type": "quantitative", "axis": null}, "y": {"datum": 0.0183, "type": "quantitative", "axis": null}}},
 {"data": {"name": "one"}, "mark": {"type": "text", "text": "= 1.5020 d⁻¹", "fontSize": 12, "align": "left", "baseline": "alphabetic", "dx": 17, "color": "#222"}, "encoding": {"x": {"datum": -100, "type": "quantitative", "axis": null}, "y": {"datum": 0.0183, "type": "quantitative", "axis": null}}}
]},
{"width": 140, "height": 109, "resolve": {"axis": {"x": "independent", "y": "independent"}}, "layer": [
 {"data": {"name": "prof"}, "mark": {"type": "line", "color": "#b0b0b0", "strokeWidth": 1.6}, "encoding": {"x": {"field": "v", "type": "quantitative", "scale": {"domain": [-300, 295], "nice": false, "zero": false}, "axis": null}, "y": {"field": "f", "type": "quantitative", "scale": {"domain": [-0.0023, 0.0223], "nice": false, "zero": false}, "axis": null}}},
 {"data": {"name": "d"}, "transform": [{"filter": "datum.p == 3"}], "mark": {"type": "errorband", "color": "#ffa500", "band": {"opacity": 0.55}, "borders": {"opacity": 1, "strokeWidth": 0.8}}, "encoding": {"x": {"field": "v", "type": "quantitative", "scale": {"domain": [-300, 295], "nice": false, "zero": false}, "axis": {"orient": "bottom", "values": [-200, 0, 200], "tickSize": -4, "labels": false, "title": null}}, "y": {"field": "a", "type": "quantitative", "scale": {"domain": [-0.0023, 0.0223], "nice": false, "zero": false}, "axis": {"orient": "right", "values": [0, 0.01, 0.02], "tickSize": -4, "labels": false, "title": null}}, "yError": {"field": "e"}}},
 {"data": {"name": "d"}, "transform": [{"filter": "datum.p == 3"}], "mark": {"type": "line", "color": "#3f8fdf", "strokeWidth": 1}, "encoding": {"x": {"field": "v", "type": "quantitative", "scale": {"domain": [-300, 295], "nice": false, "zero": false}, "axis": {"orient": "top", "values": [-200, 0, 200], "tickSize": -4, "labelPadding": 10, "title": null}}, "y": {"field": "a", "type": "quantitative", "scale": {"domain": [-0.0023, 0.0223], "nice": false, "zero": false}, "axis": {"orient": "left", "values": [0, 0.01, 0.02], "tickSize": -4, "labels": false, "title": null}}}},
 {"data": {"name": "one"}, "mark": {"type": "text", "text": "f", "fontStyle": "italic", "fontSize": 13, "align": "right", "baseline": "alphabetic", "color": "#222"}, "encoding": {"x": {"datum": -100, "type": "quantitative", "axis": null}, "y": {"datum": 0.0183, "type": "quantitative", "axis": null}}},
 {"data": {"name": "one"}, "mark": {"type": "text", "text": "S,15", "fontStyle": "italic", "fontSize": 9, "align": "left", "baseline": "alphabetic", "dy": 3, "color": "#222"}, "encoding": {"x": {"datum": -100, "type": "quantitative", "axis": null}, "y": {"datum": 0.0183, "type": "quantitative", "axis": null}}},
 {"data": {"name": "one"}, "mark": {"type": "text", "text": "= 0.6900 d⁻¹", "fontSize": 12, "align": "left", "baseline": "alphabetic", "dx": 17, "color": "#222"}, "encoding": {"x": {"datum": -100, "type": "quantitative", "axis": null}, "y": {"datum": 0.0183, "type": "quantitative", "axis": null}}}
]},
{"width": 140, "height": 109, "resolve": {"axis": {"x": "independent", "y": "independent"}}, "layer": [
 {"data": {"name": "prof"}, "mark": {"type": "line", "color": "#b0b0b0", "strokeWidth": 1.6}, "encoding": {"x": {"field": "v", "type": "quantitative", "scale": {"domain": [-300, 295], "nice": false, "zero": false}, "axis": null}, "y": {"field": "f", "type": "quantitative", "scale": {"domain": [-0.0023, 0.0223], "nice": false, "zero": false}, "axis": null}}},
 {"data": {"name": "d"}, "transform": [{"filter": "datum.p == 4"}], "mark": {"type": "errorband", "color": "#ffa500", "band": {"opacity": 0.55}, "borders": {"opacity": 1, "strokeWidth": 0.8}}, "encoding": {"x": {"field": "v", "type": "quantitative", "scale": {"domain": [-300, 295], "nice": false, "zero": false}, "axis": {"orient": "bottom", "values": [-200, 0, 200], "tickSize": -4, "labels": false, "title": null}}, "y": {"field": "a", "type": "quantitative", "scale": {"domain": [-0.0023, 0.0223], "nice": false, "zero": false}, "axis": {"orient": "right", "values": [0, 0.01, 0.02], "tickSize": -4, "labels": false, "title": null}}, "yError": {"field": "e"}}},
 {"data": {"name": "d"}, "transform": [{"filter": "datum.p == 4"}], "mark": {"type": "line", "color": "#3f8fdf", "strokeWidth": 1}, "encoding": {"x": {"field": "v", "type": "quantitative", "scale": {"domain": [-300, 295], "nice": false, "zero": false}, "axis": {"orient": "top", "values": [-200, 0, 200], "tickSize": -4, "labelPadding": 10, "title": null}}, "y": {"field": "a", "type": "quantitative", "scale": {"domain": [-0.0023, 0.0223], "nice": false, "zero": false}, "axis": {"orient": "left", "values": [0, 0.01, 0.02], "tickSize": -4, "labels": false, "title": null}}}},
 {"data": {"name": "one"}, "mark": {"type": "text", "text": "f", "fontStyle": "italic", "fontSize": 13, "align": "right", "baseline": "alphabetic", "color": "#222"}, "encoding": {"x": {"datum": -100, "type": "quantitative", "axis": null}, "y": {"datum": 0.0183, "type": "quantitative", "axis": null}}},
 {"data": {"name": "one"}, "mark": {"type": "text", "text": "S,16", "fontStyle": "italic", "fontSize": 9, "align": "left", "baseline": "alphabetic", "dy": 3, "color": "#222"}, "encoding": {"x": {"datum": -100, "type": "quantitative", "axis": null}, "y": {"datum": 0.0183, "type": "quantitative", "axis": null}}},
 {"data": {"name": "one"}, "mark": {"type": "text", "text": "= 2.6380 d⁻¹", "fontSize": 12, "align": "left", "baseline": "alphabetic", "dx": 17, "color": "#222"}, "encoding": {"x": {"datum": -100, "type": "quantitative", "axis": null}, "y": {"datum": 0.0183, "type": "quantitative", "axis": null}}}
]},
{"width": 140, "height": 109, "resolve": {"axis": {"x": "independent", "y": "independent"}}, "layer": [
 {"data": {"name": "prof"}, "mark": {"type": "line", "color": "#b0b0b0", "strokeWidth": 1.6}, "encoding": {"x": {"field": "v", "type": "quantitative", "scale": {"domain": [-300, 295], "nice": false, "zero": false}, "axis": null}, "y": {"field": "f", "type": "quantitative", "scale": {"domain": [-0.0023, 0.0223], "nice": false, "zero": false}, "axis": null}}},
 {"data": {"name": "d"}, "transform": [{"filter": "datum.p == 5"}], "mark": {"type": "errorband", "color": "#ffa500", "band": {"opacity": 0.55}, "borders": {"opacity": 1, "strokeWidth": 0.8}}, "encoding": {"x": {"field": "v", "type": "quantitative", "scale": {"domain": [-300, 295], "nice": false, "zero": false}, "axis": {"orient": "bottom", "values": [-200, 0, 200], "tickSize": -4, "labels": false, "title": null}}, "y": {"field": "a", "type": "quantitative", "scale": {"domain": [-0.0023, 0.0223], "nice": false, "zero": false}, "axis": {"orient": "right", "values": [0, 0.01, 0.02], "format": ".2f", "tickSize": -4, "labelPadding": 9, "title": null}}, "yError": {"field": "e"}}},
 {"data": {"name": "d"}, "transform": [{"filter": "datum.p == 5"}], "mark": {"type": "line", "color": "#3f8fdf", "strokeWidth": 1}, "encoding": {"x": {"field": "v", "type": "quantitative", "scale": {"domain": [-300, 295], "nice": false, "zero": false}, "axis": {"orient": "top", "values": [-200, 0, 200], "tickSize": -4, "labelPadding": 10, "title": null}}, "y": {"field": "a", "type": "quantitative", "scale": {"domain": [-0.0023, 0.0223], "nice": false, "zero": false}, "axis": {"orient": "left", "values": [0, 0.01, 0.02], "tickSize": -4, "labels": false, "title": null}}}},
 {"data": {"name": "one"}, "mark": {"type": "text", "text": "f", "fontStyle": "italic", "fontSize": 13, "align": "right", "baseline": "alphabetic", "color": "#222"}, "encoding": {"x": {"datum": -100, "type": "quantitative", "axis": null}, "y": {"datum": 0.0183, "type": "quantitative", "axis": null}}},
 {"data": {"name": "one"}, "mark": {"type": "text", "text": "S,17", "fontStyle": "italic", "fontSize": 9, "align": "left", "baseline": "alphabetic", "dy": 3, "color": "#222"}, "encoding": {"x": {"datum": -100, "type": "quantitative", "axis": null}, "y": {"datum": 0.0183, "type": "quantitative", "axis": null}}},
 {"data": {"name": "one"}, "mark": {"type": "text", "text": "= 0.9920 d⁻¹", "fontSize": 12, "align": "left", "baseline": "alphabetic", "dx": 17, "color": "#222"}, "encoding": {"x": {"datum": -100, "type": "quantitative", "axis": null}, "y": {"datum": 0.0183, "type": "quantitative", "axis": null}}}
]}
]},
{"spacing": 0, "bounds": "flush", "hconcat": [
{"width": 140, "height": 109, "resolve": {"scale": {"y": "independent"}, "axis": {"x": "independent", "y": "independent"}}, "layer": [
 {"data": {"name": "prof"}, "mark": {"type": "line", "color": "#b0b0b0", "strokeWidth": 1.6}, "encoding": {"x": {"field": "v", "type": "quantitative", "scale": {"domain": [-300, 295], "nice": false, "zero": false}, "axis": null}, "y": {"field": "f", "type": "quantitative", "scale": {"domain": [-0.0023, 0.0223], "nice": false, "zero": false}, "axis": null}}},
 {"data": {"name": "d"}, "transform": [{"filter": "datum.p == 1"}], "mark": {"type": "errorbar", "color": "#ffa500", "thickness": 1.2}, "encoding": {"x": {"field": "v", "type": "quantitative", "scale": {"domain": [-300, 295], "nice": false, "zero": false}, "axis": {"orient": "bottom", "values": [-200, 0, 200], "tickSize": -4, "labelPadding": 9, "title": null}}, "y": {"field": "ph", "type": "quantitative", "scale": {"domain": [-3.55, 7.9], "nice": false, "zero": false}, "axis": {"orient": "right", "values": [-3, -2, -1, 0, 1, 2, 3, 4, 5, 6, 7], "tickSize": -3, "labels": false, "title": null}}, "yError": {"field": "pe"}}},
 {"data": {"name": "d"}, "transform": [{"filter": "datum.p == 1"}], "mark": {"type": "line", "color": "#4d8db5", "strokeWidth": 1}, "encoding": {"x": {"field": "v", "type": "quantitative", "scale": {"domain": [-300, 295], "nice": false, "zero": false}, "axis": {"orient": "top", "values": [-200, 0, 200], "tickSize": -4, "labels": false, "title": null}}, "y": {"field": "ph", "type": "quantitative", "scale": {"domain": [-3.55, 7.9], "nice": false, "zero": false}, "axis": {"orient": "left", "values": [-3, -2, -1, 0, 1, 2, 3, 4, 5, 6, 7], "labelExpr": "datum.value % 2 == 0 ? datum.label : ''", "tickSize": -3, "labelPadding": 11, "title": "Φ [rad]", "titleX": -40}}}}
]},
{"width": 140, "height": 109, "resolve": {"scale": {"y": "independent"}, "axis": {"x": "independent", "y": "independent"}}, "layer": [
 {"data": {"name": "prof"}, "mark": {"type": "line", "color": "#b0b0b0", "strokeWidth": 1.6}, "encoding": {"x": {"field": "v", "type": "quantitative", "scale": {"domain": [-300, 295], "nice": false, "zero": false}, "axis": null}, "y": {"field": "f", "type": "quantitative", "scale": {"domain": [-0.0023, 0.0223], "nice": false, "zero": false}, "axis": null}}},
 {"data": {"name": "d"}, "transform": [{"filter": "datum.p == 2"}], "mark": {"type": "errorbar", "color": "#ffa500", "thickness": 1.2}, "encoding": {"x": {"field": "v", "type": "quantitative", "scale": {"domain": [-300, 295], "nice": false, "zero": false}, "axis": {"orient": "bottom", "values": [-200, 0, 200], "tickSize": -4, "labelPadding": 9, "title": null}}, "y": {"field": "ph", "type": "quantitative", "scale": {"domain": [-3.55, 7.9], "nice": false, "zero": false}, "axis": {"orient": "right", "values": [-3, -2, -1, 0, 1, 2, 3, 4, 5, 6, 7], "tickSize": -3, "labels": false, "title": null}}, "yError": {"field": "pe"}}},
 {"data": {"name": "d"}, "transform": [{"filter": "datum.p == 2"}], "mark": {"type": "line", "color": "#4d8db5", "strokeWidth": 1}, "encoding": {"x": {"field": "v", "type": "quantitative", "scale": {"domain": [-300, 295], "nice": false, "zero": false}, "axis": {"orient": "top", "values": [-200, 0, 200], "tickSize": -4, "labels": false, "title": null}}, "y": {"field": "ph", "type": "quantitative", "scale": {"domain": [-3.55, 7.9], "nice": false, "zero": false}, "axis": {"orient": "left", "values": [-3, -2, -1, 0, 1, 2, 3, 4, 5, 6, 7], "tickSize": -3, "labels": false, "title": null}}}}
]},
{"width": 140, "height": 109, "resolve": {"scale": {"y": "independent"}, "axis": {"x": "independent", "y": "independent"}}, "layer": [
 {"data": {"name": "prof"}, "mark": {"type": "line", "color": "#b0b0b0", "strokeWidth": 1.6}, "encoding": {"x": {"field": "v", "type": "quantitative", "scale": {"domain": [-300, 295], "nice": false, "zero": false}, "axis": null}, "y": {"field": "f", "type": "quantitative", "scale": {"domain": [-0.0023, 0.0223], "nice": false, "zero": false}, "axis": null}}},
 {"data": {"name": "d"}, "transform": [{"filter": "datum.p == 3"}], "mark": {"type": "errorbar", "color": "#ffa500", "thickness": 1.2}, "encoding": {"x": {"field": "v", "type": "quantitative", "scale": {"domain": [-300, 295], "nice": false, "zero": false}, "axis": {"orient": "bottom", "values": [-200, 0, 200], "tickSize": -4, "labelPadding": 9, "title": null}}, "y": {"field": "ph", "type": "quantitative", "scale": {"domain": [-3.55, 7.9], "nice": false, "zero": false}, "axis": {"orient": "right", "values": [-3, -2, -1, 0, 1, 2, 3, 4, 5, 6, 7], "tickSize": -3, "labels": false, "title": null}}, "yError": {"field": "pe"}}},
 {"data": {"name": "d"}, "transform": [{"filter": "datum.p == 3"}], "mark": {"type": "line", "color": "#4d8db5", "strokeWidth": 1}, "encoding": {"x": {"field": "v", "type": "quantitative", "scale": {"domain": [-300, 295], "nice": false, "zero": false}, "axis": {"orient": "top", "values": [-200, 0, 200], "tickSize": -4, "labels": false, "title": null}}, "y": {"field": "ph", "type": "quantitative", "scale": {"domain": [-3.55, 7.9], "nice": false, "zero": false}, "axis": {"orient": "left", "values": [-3, -2, -1, 0, 1, 2, 3, 4, 5, 6, 7], "tickSize": -3, "labels": false, "title": null}}}}
]},
{"width": 140, "height": 109, "resolve": {"scale": {"y": "independent"}, "axis": {"x": "independent", "y": "independent"}}, "layer": [
 {"data": {"name": "prof"}, "mark": {"type": "line", "color": "#b0b0b0", "strokeWidth": 1.6}, "encoding": {"x": {"field": "v", "type": "quantitative", "scale": {"domain": [-300, 295], "nice": false, "zero": false}, "axis": null}, "y": {"field": "f", "type": "quantitative", "scale": {"domain": [-0.0023, 0.0223], "nice": false, "zero": false}, "axis": null}}},
 {"data": {"name": "d"}, "transform": [{"filter": "datum.p == 4"}], "mark": {"type": "errorbar", "color": "#ffa500", "thickness": 1.2}, "encoding": {"x": {"field": "v", "type": "quantitative", "scale": {"domain": [-300, 295], "nice": false, "zero": false}, "axis": {"orient": "bottom", "values": [-200, 0, 200], "tickSize": -4, "labelPadding": 9, "title": null}}, "y": {"field": "ph", "type": "quantitative", "scale": {"domain": [-3.55, 7.9], "nice": false, "zero": false}, "axis": {"orient": "right", "values": [-3, -2, -1, 0, 1, 2, 3, 4, 5, 6, 7], "tickSize": -3, "labels": false, "title": null}}, "yError": {"field": "pe"}}},
 {"data": {"name": "d"}, "transform": [{"filter": "datum.p == 4"}], "mark": {"type": "line", "color": "#4d8db5", "strokeWidth": 1}, "encoding": {"x": {"field": "v", "type": "quantitative", "scale": {"domain": [-300, 295], "nice": false, "zero": false}, "axis": {"orient": "top", "values": [-200, 0, 200], "tickSize": -4, "labels": false, "title": null}}, "y": {"field": "ph", "type": "quantitative", "scale": {"domain": [-3.55, 7.9], "nice": false, "zero": false}, "axis": {"orient": "left", "values": [-3, -2, -1, 0, 1, 2, 3, 4, 5, 6, 7], "tickSize": -3, "labels": false, "title": null}}}}
]},
{"width": 140, "height": 109, "resolve": {"scale": {"y": "independent"}, "axis": {"x": "independent", "y": "independent"}}, "layer": [
 {"data": {"name": "prof"}, "mark": {"type": "line", "color": "#b0b0b0", "strokeWidth": 1.6}, "encoding": {"x": {"field": "v", "type": "quantitative", "scale": {"domain": [-300, 295], "nice": false, "zero": false}, "axis": null}, "y": {"field": "f", "type": "quantitative", "scale": {"domain": [-0.0023, 0.0223], "nice": false, "zero": false}, "axis": null}}},
 {"data": {"name": "d"}, "transform": [{"filter": "datum.p == 5"}], "mark": {"type": "errorbar", "color": "#ffa500", "thickness": 1.2}, "encoding": {"x": {"field": "v", "type": "quantitative", "scale": {"domain": [-300, 295], "nice": false, "zero": false}, "axis": {"orient": "bottom", "values": [-200, 0, 200], "tickSize": -4, "labelPadding": 9, "title": null}}, "y": {"field": "ph", "type": "quantitative", "scale": {"domain": [-3.55, 7.9], "nice": false, "zero": false}, "axis": {"orient": "right", "values": [-3, -2, -1, 0, 1, 2, 3, 4, 5, 6, 7], "labelExpr": "datum.value % 2 == 0 ? datum.label : ''", "tickSize": -3, "labelPadding": 9, "title": null}}, "yError": {"field": "pe"}}},
 {"data": {"name": "d"}, "transform": [{"filter": "datum.p == 5"}], "mark": {"type": "line", "color": "#4d8db5", "strokeWidth": 1}, "encoding": {"x": {"field": "v", "type": "quantitative", "scale": {"domain": [-300, 295], "nice": false, "zero": false}, "axis": {"orient": "top", "values": [-200, 0, 200], "tickSize": -4, "labels": false, "title": null}}, "y": {"field": "ph", "type": "quantitative", "scale": {"domain": [-3.55, 7.9], "nice": false, "zero": false}, "axis": {"orient": "left", "values": [-3, -2, -1, 0, 1, 2, 3, 4, 5, 6, 7], "tickSize": -3, "labels": false, "title": null}}}}
]}
]}
]
}
